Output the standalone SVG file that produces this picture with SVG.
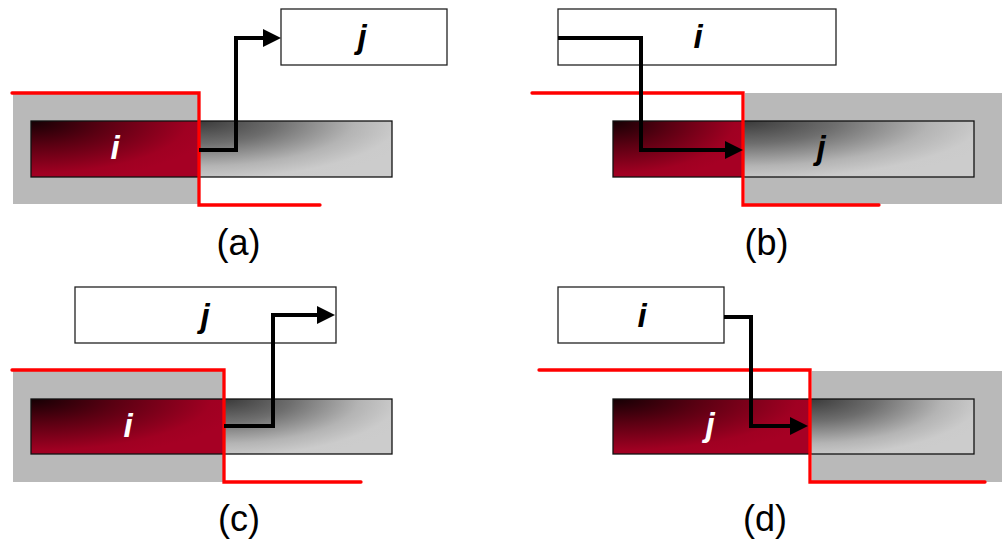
<svg xmlns="http://www.w3.org/2000/svg" width="1002" height="544" viewBox="0 0 1002 544">
<defs>
<radialGradient id="gRed" cx="0" cy="0" r="1.1" fx="0" fy="0">
<stop offset="0" stop-color="#150004"/>
<stop offset="0.4" stop-color="#5a0012"/>
<stop offset="0.85" stop-color="#a00022"/>
<stop offset="1" stop-color="#a60024"/>
</radialGradient>
<radialGradient id="gGray" cx="0" cy="0" r="1.15" fx="0" fy="0">
<stop offset="0" stop-color="#3a3a3a"/>
<stop offset="0.35" stop-color="#6e6e6e"/>
<stop offset="0.7" stop-color="#b4b4b4"/>
<stop offset="0.9" stop-color="#cbcbcb"/>
<stop offset="1" stop-color="#cccccc"/>
</radialGradient>
<marker id="arr" markerUnits="userSpaceOnUse" markerWidth="20" markerHeight="20" viewBox="0 0 20 20" refX="1" refY="10" orient="auto">
<path d="M0,1 L18,10 L0,19 z" fill="#000"/>
</marker>
<style>
.bg{fill:#b9b9b9;stroke:none}
.red{fill:url(#gRed);stroke:none}
.gray{fill:url(#gGray);stroke:none}
.bar{fill:none;stroke:#111;stroke-width:1.3}
.box{fill:#fff;stroke:#222;stroke-width:1.3}
.cut{fill:none;stroke:#ff0000;stroke-width:3.3;stroke-linecap:round;stroke-linejoin:miter}
.arrow{fill:none;stroke:#000;stroke-width:4;stroke-linejoin:miter;marker-end:url(#arr)}
.lbl{font-family:"Liberation Sans",Arial,sans-serif;font-weight:bold;font-style:italic;font-size:33px;text-anchor:middle}
.w{fill:#fff}
.k{fill:#000}
.cap{font-family:"Liberation Sans",Arial,sans-serif;font-size:36px;text-anchor:middle;fill:#000}
</style>
</defs>

<!-- Panel (a) -->
<g id="a-region">
<rect class="bg" x="13" y="93" width="186" height="111"/>
</g>
<g id="a-bar">
<rect class="red" x="31" y="121" width="168" height="56"/>
<rect class="gray" x="199" y="121" width="193" height="56"/>
<rect class="bar" x="31" y="121" width="361" height="56"/>
<text class="lbl w" x="115" y="159">i</text>
</g>
<g id="a-j">
<rect class="box" x="281" y="9" width="166" height="56"/>
<text class="lbl k" x="362" y="48">j</text>
</g>
<g id="a-cut"><path class="cut" d="M12,93 H199 V205 H320"/></g>
<text class="cap" x="238.5" y="255">(a)</text>

<!-- Panel (b) -->
<g id="b-region">
<rect class="bg" x="745" y="93" width="257" height="111"/>
</g>
<g id="b-bar">
<rect class="red" x="613" y="121" width="130" height="56"/>
<rect class="gray" x="743" y="121" width="231" height="56"/>
<rect class="bar" x="613" y="121" width="361" height="56"/>
<text class="lbl k" x="821" y="159">j</text>
</g>
<g id="b-i">
<rect class="box" x="558" y="9" width="278" height="56"/>
<text class="lbl k" x="698" y="48">i</text>
</g>
<g id="b-cut"><path class="cut" d="M532,93 H743 V205 H879"/></g>
<text class="cap" x="766.5" y="255">(b)</text>

<!-- Panel (c) -->
<g id="c-region">
<rect class="bg" x="13" y="371" width="210" height="111"/>
</g>
<g id="c-bar">
<rect class="red" x="31" y="399" width="193" height="55"/>
<rect class="gray" x="224" y="399" width="168" height="55"/>
<rect class="bar" x="31" y="399" width="361" height="55"/>
<text class="lbl w" x="128" y="437">i</text>
</g>
<g id="c-j">
<rect class="box" x="75" y="287" width="261" height="56"/>
<text class="lbl k" x="205" y="327">j</text>
</g>
<g id="c-cut"><path class="cut" d="M12,370 H224 V482 H361"/></g>
<text class="cap" x="239" y="531">(c)</text>

<!-- Panel (d) -->
<g id="d-region">
<rect class="bg" x="812" y="371" width="190" height="111"/>
</g>
<g id="d-bar">
<rect class="red" x="613" y="399" width="197" height="55"/>
<rect class="gray" x="810" y="399" width="164" height="55"/>
<rect class="bar" x="613" y="399" width="361" height="55"/>
<text class="lbl w" x="710" y="436">j</text>
</g>
<g id="d-i">
<rect class="box" x="558" y="287" width="166" height="56"/>
<text class="lbl k" x="642" y="327">i</text>
</g>
<g id="d-cut"><path class="cut" d="M539,370 H810 V482 H985"/></g>
<text class="cap" x="765" y="531">(d)</text>

<g id="connectors">
<path class="arrow" d="M199,150 H236 V38 H264"/>
<path class="arrow" d="M558,38 H641 V150 H726"/>
<path class="arrow" d="M224,426 H273 V315 H318"/>
<path class="arrow" d="M724,317 H751 V426 H791"/>
</g>
</svg>
